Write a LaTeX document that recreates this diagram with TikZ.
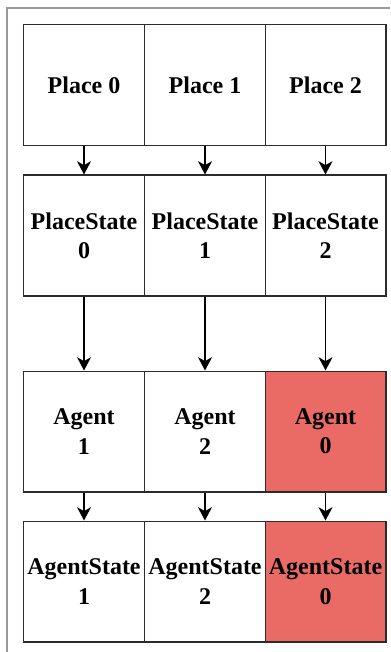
\documentclass[tikz,border=0pt]{standalone}
\usepackage{fontspec}
\setmainfont{Liberation Serif}
\usetikzlibrary{arrows.meta}
\definecolor{hot}{HTML}{EA6B66}
\definecolor{framegray}{HTML}{9A9A9A}
\definecolor{edge}{HTML}{2B2B2B}
\tikzset{
  cell/.style={draw=edge, line width=1pt, minimum width=90.5pt, minimum height=90.5pt,
    inner sep=0pt, align=center, anchor=north west,
    font=\fontsize{18}{22}\selectfont\bfseries},
  hotcell/.style={cell, fill=hot},
  flow/.style={draw=black, line width=1pt,
    -{Stealth[length=10pt, width=10.5pt, inset=3pt]}},
}
\begin{document}
\begin{tikzpicture}[x=0.75pt, y=-0.75pt]
\useasboundingbox (0,0) rectangle (390,652);
% outer frame, cut off at the right and bottom
\draw[framegray, line width=1.1pt] (7,652) -- (7,8) -- (390,8);

% rows of cells
\node[cell] (p0) at (23,24) {Place 0};
\node[cell] (p1) at (144,24) {Place 1};
\node[cell] (p2) at (264.5,24) {Place 2};

\node[cell] (s0) at (23,174.5) {PlaceState\\0};
\node[cell] (s1) at (144,174.5) {PlaceState\\1};
\node[cell] (s2) at (264.5,174.5) {PlaceState\\2};

\node[cell] (a1) at (23,370.5) {Agent\\1};
\node[cell] (a2) at (144,370.5) {Agent\\2};
\node[hotcell] (a0) at (264.5,370.5) {Agent\\0};

\node[cell] (t1) at (23,520.5) {AgentState\\1};
\node[cell] (t2) at (144,520.5) {AgentState\\2};
\node[hotcell] (t0) at (264.5,520.5) {AgentState\\0};

% connectors
\foreach \u/\v in {p0/s0, p1/s1, p2/s2, s0/a1, s1/a2, s2/a0, a1/t1, a2/t2, a0/t0}
  \draw[flow] (\u.south) -- (\v.north);
\end{tikzpicture}
\end{document}
